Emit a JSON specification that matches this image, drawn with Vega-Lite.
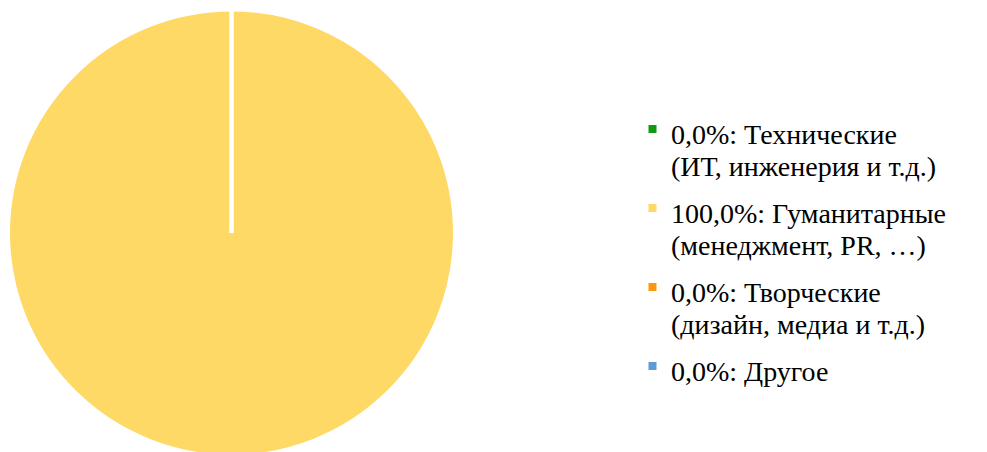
{
  "$schema": "https://vega.github.io/schema/vega-lite/v6.json",
  "width": 977,
  "height": 438,
  "autosize": "none",
  "padding": {"left": 10, "top": 14, "right": 0, "bottom": 0},
  "background": "white",
  "config": {"view": {"stroke": null}},
  "data": {
    "values": [
      {"idx": 1, "category": "Технические", "label": "0,0%: Технические\n(ИТ, инженерия и т.д.)", "value": 0},
      {"idx": 2, "category": "Гуманитарные", "label": "100,0%: Гуманитарные\n(менеджмент, PR, …)", "value": 100},
      {"idx": 3, "category": "Творческие", "label": "0,0%: Творческие\n(дизайн, медиа и т.д.)", "value": 0},
      {"idx": 4, "category": "Другое", "label": "0,0%: Другое", "value": 0}
    ]
  },
  "layer": [
    {
      "mark": {"type": "arc", "outerRadius": 223.5, "stroke": "white", "strokeWidth": 4},
      "encoding": {
        "x": {"datum": 221.5, "type": "quantitative", "scale": {"domain": [0, 977], "nice": false, "zero": false}, "axis": null},
        "theta": {"field": "value", "type": "quantitative", "stack": true},
        "order": {"field": "idx", "type": "quantitative"},
        "color": {
          "field": "category",
          "type": "nominal",
          "scale": {
            "domain": ["Технические", "Гуманитарные", "Творческие", "Другое"],
            "range": ["#109A10", "#FFD966", "#FF9610", "#5B9BD5"]
          },
          "legend": null
        }
      }
    },
    {
      "mark": {"type": "point", "shape": "square", "filled": true, "size": 64, "opacity": 1, "strokeWidth": 0},
      "encoding": {
        "x": {"datum": 642.5, "type": "quantitative"},
        "y": {"field": "idx", "type": "quantitative", "scale": {"domain": [-0.4557, 5.0886], "reverse": true, "nice": false, "zero": false}, "axis": null},
        "color": {"field": "category", "type": "nominal", "legend": null}
      }
    },
    {
      "mark": {"type": "text", "align": "left", "baseline": "top", "dx": 18.5, "dy": -7, "font": "Liberation Serif", "fontSize": 28, "lineHeight": 32, "lineBreak": "\n", "fill": "black"},
      "encoding": {
        "x": {"datum": 642.5, "type": "quantitative"},
        "y": {"field": "idx", "type": "quantitative"},
        "text": {"field": "label", "type": "nominal"}
      }
    }
  ]
}
